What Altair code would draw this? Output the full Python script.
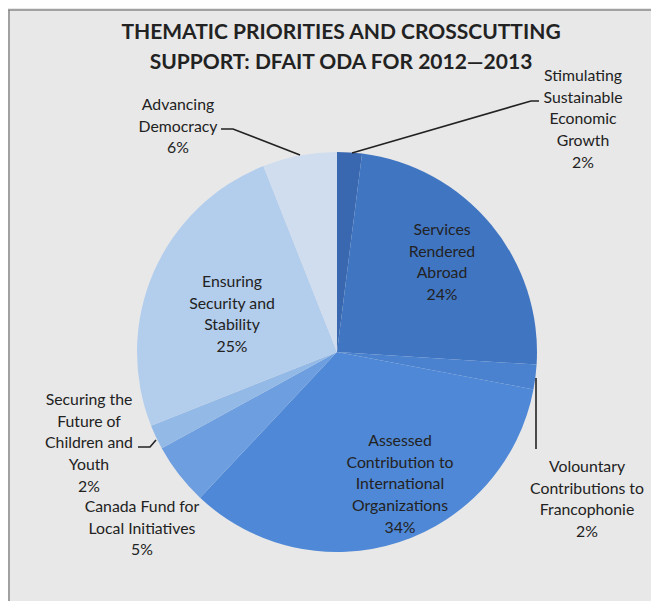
import altair as alt
import pandas as pd

# ---- data ----
categories = [
    "Stimulating Sustainable Economic Growth",
    "Services Rendered Abroad",
    "Voluntary Contributions to Francophonie",
    "Assessed Contribution to International Organizations",
    "Canada Fund for Local Initiatives",
    "Securing the Future of Children and Youth",
    "Ensuring Security and Stability",
    "Advancing Democracy",
]
shares = [2, 24, 2, 34, 5, 2, 25, 6]
label_lines = [
    ["Stimulating", "Sustainable", "Economic", "Growth", "2%"],
    ["Services", "Rendered", "Abroad", "24%"],
    ["Volountary", "Contributions to", "Francophonie", "2%"],
    ["Assessed", "Contribution to", "International", "Organizations", "34%"],
    ["Canada Fund for", "Local Initiatives", "5%"],
    ["Securing the", "Future of", "Children and", "Youth", "2%"],
    ["Ensuring", "Security and", "Stability", "25%"],
    ["Advancing", "Democracy", "6%"],
]
title_lines = ["THEMATIC PRIORITIES AND CROSSCUTTING", "SUPPORT: DFAIT ODA FOR 2012\u20142013"]

# ---- styling / layout ----
slice_colors = ["#3a68b0", "#4075c2", "#4b82cf", "#4f88d6",
                "#6c9ee0", "#93b9e6", "#b3cdec", "#cfddef"]
W, H = 643, 593
OFF = 8  # page margin
cx, cy, R = 337 - OFF, 352 - OFF, 200
# first-line centres of each label block (page pixels)
label_pos = [(583, 76), (442, 230), (587, 467), (400, 441),
             (142, 507), (89, 400), (232, 282), (178, 105)]
leaders = {
    "stim": [(352, 153), (531, 101), (539, 101)],
    "adv": [(221, 129), (233, 129), (300, 155)],
    "vol": [(536, 378), (536, 449)],
    "sec": [(138, 447), (150, 447), (156, 440)],
}

pie_df = pd.DataFrame({"category": categories, "share": shares,
                       "idx": list(range(len(categories)))})

arcs = alt.Chart(pie_df).mark_arc(outerRadius=R, stroke=None).encode(
    theta=alt.Theta("share:Q", stack=True),
    order=alt.Order("idx:Q", sort="ascending"),
    color=alt.Color("category:N", scale=alt.Scale(domain=categories, range=slice_colors), legend=None),
    x=alt.value(cx),
    y=alt.value(cy),
)

lab_df = pd.DataFrame({
    "lines": label_lines,
    "px": [p[0] - OFF for p in label_pos],
    "py": [p[1] - OFF for p in label_pos],
})
labels = alt.Chart(lab_df).mark_text(
    font="Lato", fontSize=15.8, color="#222222", align="center",
    baseline="middle", lineHeight=21.7,
).encode(
    x=alt.X("px:Q", scale=None, axis=None),
    y=alt.Y("py:Q", scale=None, axis=None),
    text="lines",
)

rows = []
for seg, pts in leaders.items():
    for k, (x, y) in enumerate(pts):
        rows.append({"seg": seg, "k": k, "lx": x - OFF, "ly": y - OFF})
lead_df = pd.DataFrame(rows)
lead = alt.Chart(lead_df).mark_line(color="#222222", strokeWidth=1.6).encode(
    x=alt.X("lx:Q", scale=None, axis=None),
    y=alt.Y("ly:Q", scale=None, axis=None),
    detail="seg:N",
    order="k:Q",
)

title_df = pd.DataFrame({"t": title_lines, "tx": [341 - OFF, 341 - OFF], "ty": [33 - OFF, 63 - OFF]})
title = alt.Chart(title_df).mark_text(
    font="Lato", fontSize=21, fontWeight="bold", color="#222222", align="center", baseline="middle",
).encode(
    x=alt.X("tx:Q", scale=None, axis=None),
    y=alt.Y("ty:Q", scale=None, axis=None),
    text="t:N",
)

frame_top = alt.Chart(pd.DataFrame({"a": [0]})).mark_rule(color="#8a8a8a", strokeWidth=1.5).encode(
    x=alt.value(0), x2=alt.value(W), y=alt.value(2))
frame_left = alt.Chart(pd.DataFrame({"a": [0]})).mark_rule(color="#8a8a8a", strokeWidth=1.5).encode(
    x=alt.value(1), y=alt.value(2), y2=alt.value(H))

chart = alt.layer(frame_top, frame_left, arcs, lead, labels, title).properties(
    width=W, height=H, autosize=alt.AutoSizeParams(type="none"), padding=0,
    background="#e8e8e8",
).configure_view(stroke=None)

chart.save("out.html", embed_options={"renderer": "svg", "actions": False})
